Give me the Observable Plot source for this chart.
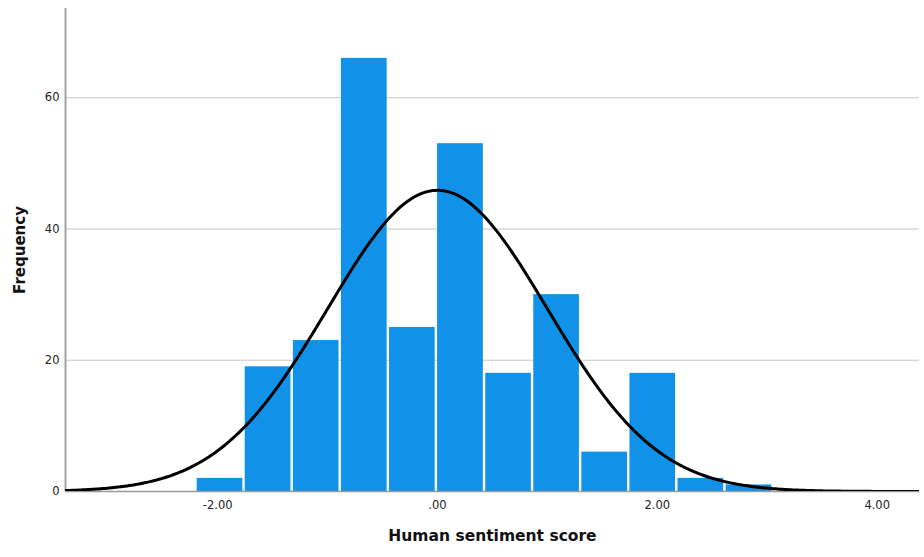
<!DOCTYPE html>
<html>
<head>
<meta charset="utf-8">
<script src="https://cdn.jsdelivr.net/npm/d3@7"></script>
<script src="https://cdn.jsdelivr.net/npm/@observablehq/plot@0.6"></script>
<style>
  html, body { margin: 0; padding: 0; background: #fff; }
  #chart svg { display: block; }
</style>
</head>
<body>
<div id="chart"></div>
<script>
// Histogram bin edges and counts per bin
const binEdges = [-2.197, -1.760, -1.322, -0.885, -0.447, -0.010, 0.428, 0.865, 1.302, 1.740, 2.177, 2.615, 3.052];
const counts   = [2, 19, 23, 66, 25, 53, 18, 30, 6, 18, 2, 1];

// Fitted normal curve parameters (standardized score)
const curveMean = 0;
const curveSD = 1;

// Axis tick values
const xTicks = [-2, 0, 2, 4];
const yTicks = [0, 20, 40, 60];

const xDomain = [-3.384, 4.385];
const yDomain = [0, 73.6];

const xLabel = "Human sentiment score";
const yLabel = "Frequency";

const bins = counts.map((c, i) => ({x1: binEdges[i], x2: binEdges[i + 1], count: c}));
const total = d3.sum(counts);
const binWidth = (binEdges[binEdges.length - 1] - binEdges[0]) / counts.length;

const curve = d3.range(xDomain[0], xDomain[1] + 0.0001, 0.02).map(x => ({
  x,
  y: total * binWidth * Math.exp(-0.5 * ((x - curveMean) / curveSD) ** 2) / (curveSD * Math.sqrt(2 * Math.PI))
}));

const fmtX = d => d === 0 ? ".00" : (d < 0 ? "-" : "") + Math.abs(d).toFixed(2);

const chart = Plot.plot({
  width: 924,
  height: 557,
  marginLeft: 65,
  marginRight: 5,
  marginTop: 8,
  marginBottom: 66,
  style: {fontFamily: "DejaVu Sans", fontSize: "11.5px", color: "#222", background: "#fff"},
  x: {domain: xDomain},
  y: {domain: yDomain},
  marks: [
    Plot.gridY(yTicks.filter(d => d > 0), {stroke: "#c8c8c8", strokeOpacity: 1, strokeWidth: 1.2}),
    Plot.rectY(bins, {x1: "x1", x2: "x2", y: "count", fill: "#1192e8", insetLeft: 1.2, insetRight: 1.2}),
    Plot.ruleY([0], {stroke: "#999", strokeWidth: 1.5}),
    Plot.ruleX([xDomain[0]], {y1: yDomain[0], y2: yDomain[1], stroke: "#999", strokeWidth: 1.8}),
    Plot.line(curve, {x: "x", y: "y", stroke: "#000", strokeWidth: 3, clip: true}),
    Plot.axisX(xTicks, {tickSize: 0, tickPadding: 9, tickFormat: fmtX, label: null, fill: "#222"}),
    Plot.axisY(yTicks, {tickSize: 0, tickPadding: 6, label: null, fill: "#222"}),
    Plot.text([xLabel], {frameAnchor: "bottom", dy: 45, lineAnchor: "middle", textAnchor: "middle", fontWeight: "bold", fontSize: 15.5, fill: "#111"}),
    Plot.text([yLabel], {frameAnchor: "left", dx: -45, rotate: -90, textAnchor: "middle", lineAnchor: "middle", fontWeight: "bold", fontSize: 15, fill: "#111"})
  ]
});

document.getElementById("chart").appendChild(chart);
</script>
</body>
</html>
